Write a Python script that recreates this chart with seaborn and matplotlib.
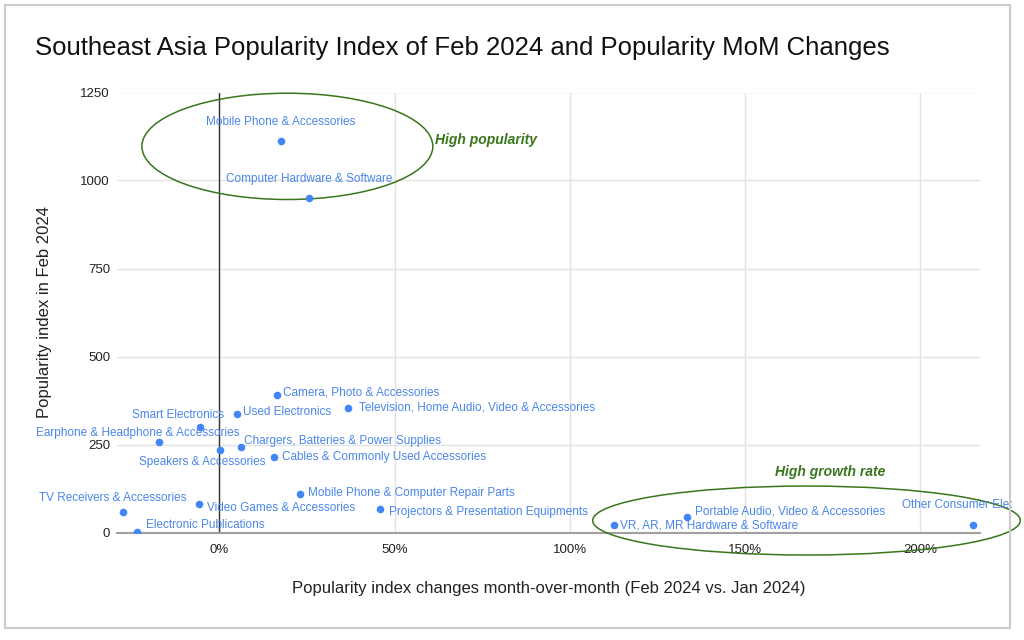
import matplotlib
matplotlib.use("Agg")
import matplotlib.pyplot as plt
import seaborn as sns
import pandas as pd
from matplotlib.patches import Ellipse, Rectangle
from matplotlib.transforms import Bbox, TransformedBbox
from matplotlib.ticker import FuncFormatter

# ---------------- data ----------------
categories = [
    "Mobile Phone & Accessories",
    "Computer Hardware & Software",
    "Camera, Photo & Accessories",
    "Television, Home Audio, Video & Accessories",
    "Used Electronics",
    "Smart Electronics",
    "Earphone & Headphone & Accessories",
    "Speakers & Accessories",
    "Chargers, Batteries & Power Supplies",
    "Cables & Commonly Used Accessories",
    "Mobile Phone & Computer Repair Parts",
    "Video Games & Accessories",
    "TV Receivers & Accessories",
    "Electronic Publications",
    "Projectors & Presentation Equipments",
    "VR, AR, MR Hardware & Software",
    "Portable Audio, Video & Accessories",
    "Other Consumer Electronics",
]
mom_change_pct = [17.5, 25.5, 16.4, 36.6, 4.9, -5.6, -17.2, 0.1, 6.1, 15.5,
                  23.0, -5.8, -27.6, -23.5, 45.7, 112.5, 133.4, 215.0]
popularity_index = [1111, 950, 391, 355, 338, 301, 256, 233, 243, 215,
                    110, 82, 58, 1, 67, 20, 45, 20]

x_ticks = [0, 50, 100, 150, 200]
y_ticks = [0, 250, 500, 750, 1000, 1250]

title = "Southeast Asia Popularity Index of Feb 2024 and Popularity MoM Changes"
x_label = "Popularity index changes month-over-month (Feb 2024 vs. Jan 2024)"
y_label = "Popularity index in Feb 2024"

# label placement (pixel offsets from point, horizontal alignment)
label_layout = {
    "Mobile Phone & Accessories": (0, 19, "center"),
    "Computer Hardware & Software": (0, 19, "center"),
    "Camera, Photo & Accessories": (6, 2, "left"),
    "Television, Home Audio, Video & Accessories": (11, 0, "left"),
    "Used Electronics": (6, 2, "left"),
    "Smart Electronics": (-22, 12, "center"),
    "Earphone & Headphone & Accessories": (-21, 9, "center"),
    "Speakers & Accessories": (-17, -12, "center"),
    "Chargers, Batteries & Power Supplies": (3, 6, "left"),
    "Cables & Commonly Used Accessories": (8, 0, "left"),
    "Mobile Phone & Computer Repair Parts": (8, 1, "left"),
    "Video Games & Accessories": (8, -4, "left"),
    "TV Receivers & Accessories": (-10, 14, "center"),
    "Electronic Publications": (9, 7, "left"),
    "Projectors & Presentation Equipments": (9, -3, "left"),
    "VR, AR, MR Hardware & Software": (6, 0, "left"),
    "Portable Audio, Video & Accessories": (8, 5, "left"),
    "Other Consumer Electronics": (3, 20, "center"),
}

df = pd.DataFrame({"category": categories, "mom": mom_change_pct, "pop": popularity_index})

# ---------------- style ----------------
sns.set_style("white")
plt.rcParams["font.family"] = ["Liberation Sans", "DejaVu Sans"]

BLUE = "#4285f4"
LABEL_BLUE = "#4a86e8"
GREEN = "#38761d"

fig = plt.figure(figsize=(10.24, 6.4), dpi=100)
ax = fig.add_axes([117 / 1024, 1 - 532.5 / 640, (980 - 117) / 1024, (532.5 - 92.5) / 640])

# outer frame
fig.patches.append(Rectangle((5 / 1024, 1 - 628 / 640), (1010 - 5) / 1024, (628 - 5) / 640,
                             transform=fig.transFigure, fill=False, edgecolor="#cccccc",
                             linewidth=1.5, zorder=0))

sns.scatterplot(data=df, x="mom", y="pop", ax=ax, color=BLUE, s=30,
                edgecolor=BLUE, linewidth=0, zorder=4, clip_on=True)

ax.set_xlim(-29.2, 217)
ax.set_ylim(0, 1250)
ax.set_xticks(x_ticks)
ax.set_yticks(y_ticks)
ax.xaxis.set_major_formatter(FuncFormatter(lambda v, p: f"{v:.0f}%"))
ax.grid(True, color="#e3e3e3", linewidth=1)
ax.set_axisbelow(True)
for s in ["top", "right", "left"]:
    ax.spines[s].set_visible(False)
ax.spines["bottom"].set_color("#a0a0a0")
ax.spines["bottom"].set_linewidth(1.5)
ax.axvline(0, color="#333333", linewidth=1, zorder=2)
ax.tick_params(axis="both", length=0, labelsize=9.5, colors="#222222")
ax.tick_params(axis="x", pad=8)
ax.tick_params(axis="y", pad=5)

ax.set_xlabel(x_label, fontsize=12, color="#222222")
ax.set_ylabel(y_label, fontsize=12, color="#222222")
ax.xaxis.set_label_coords(0.5, -(588 - 532.5) / (532.5 - 92.5))
ax.yaxis.set_label_coords(-(117 - 45) / (980 - 117), 0.5)
ax.xaxis.label.set_va("center")
ax.yaxis.label.set_va("center")

fig.text(35 / 1024, 1 - 48 / 640, title, fontsize=18.5, color="#111111", va="center", ha="left")

clip_box = TransformedBbox(Bbox([[0, 0], [1012 / 1024, 1]]), fig.transFigure)
for cat, xv, yv in zip(categories, mom_change_pct, popularity_index):
    dx, dy, ha = label_layout[cat]
    t = ax.annotate(cat, (xv, yv), xytext=(dx, dy), textcoords="offset pixels",
                    ha=ha, va="center", fontsize=8.5, color=LABEL_BLUE,
                    annotation_clip=False, zorder=5)
    t.set_clip_on(True)
    t.set_clip_box(clip_box)

# annotation ellipses
ax.add_patch(Ellipse((19.4, 1097), 83, 302, fill=False, edgecolor=GREEN,
                     linewidth=1.1, clip_on=False, zorder=3))
ax.add_patch(Ellipse((167.5, 34), 122, 196, angle=0, fill=False, edgecolor=GREEN,
                     linewidth=1.1, clip_on=False, zorder=3))
ax.annotate("High popularity", (0, 0), xycoords="figure pixels",
            xytext=(435, 640 - 140), textcoords="figure pixels",
            fontsize=10, fontweight="bold", fontstyle="italic", color=GREEN,
            ha="left", va="center")
ax.annotate("High growth rate", (0, 0), xycoords="figure pixels",
            xytext=(775, 640 - 472), textcoords="figure pixels",
            fontsize=10, fontweight="bold", fontstyle="italic", color=GREEN,
            ha="left", va="center")

fig.savefig("out.png", dpi=100, facecolor="white")
